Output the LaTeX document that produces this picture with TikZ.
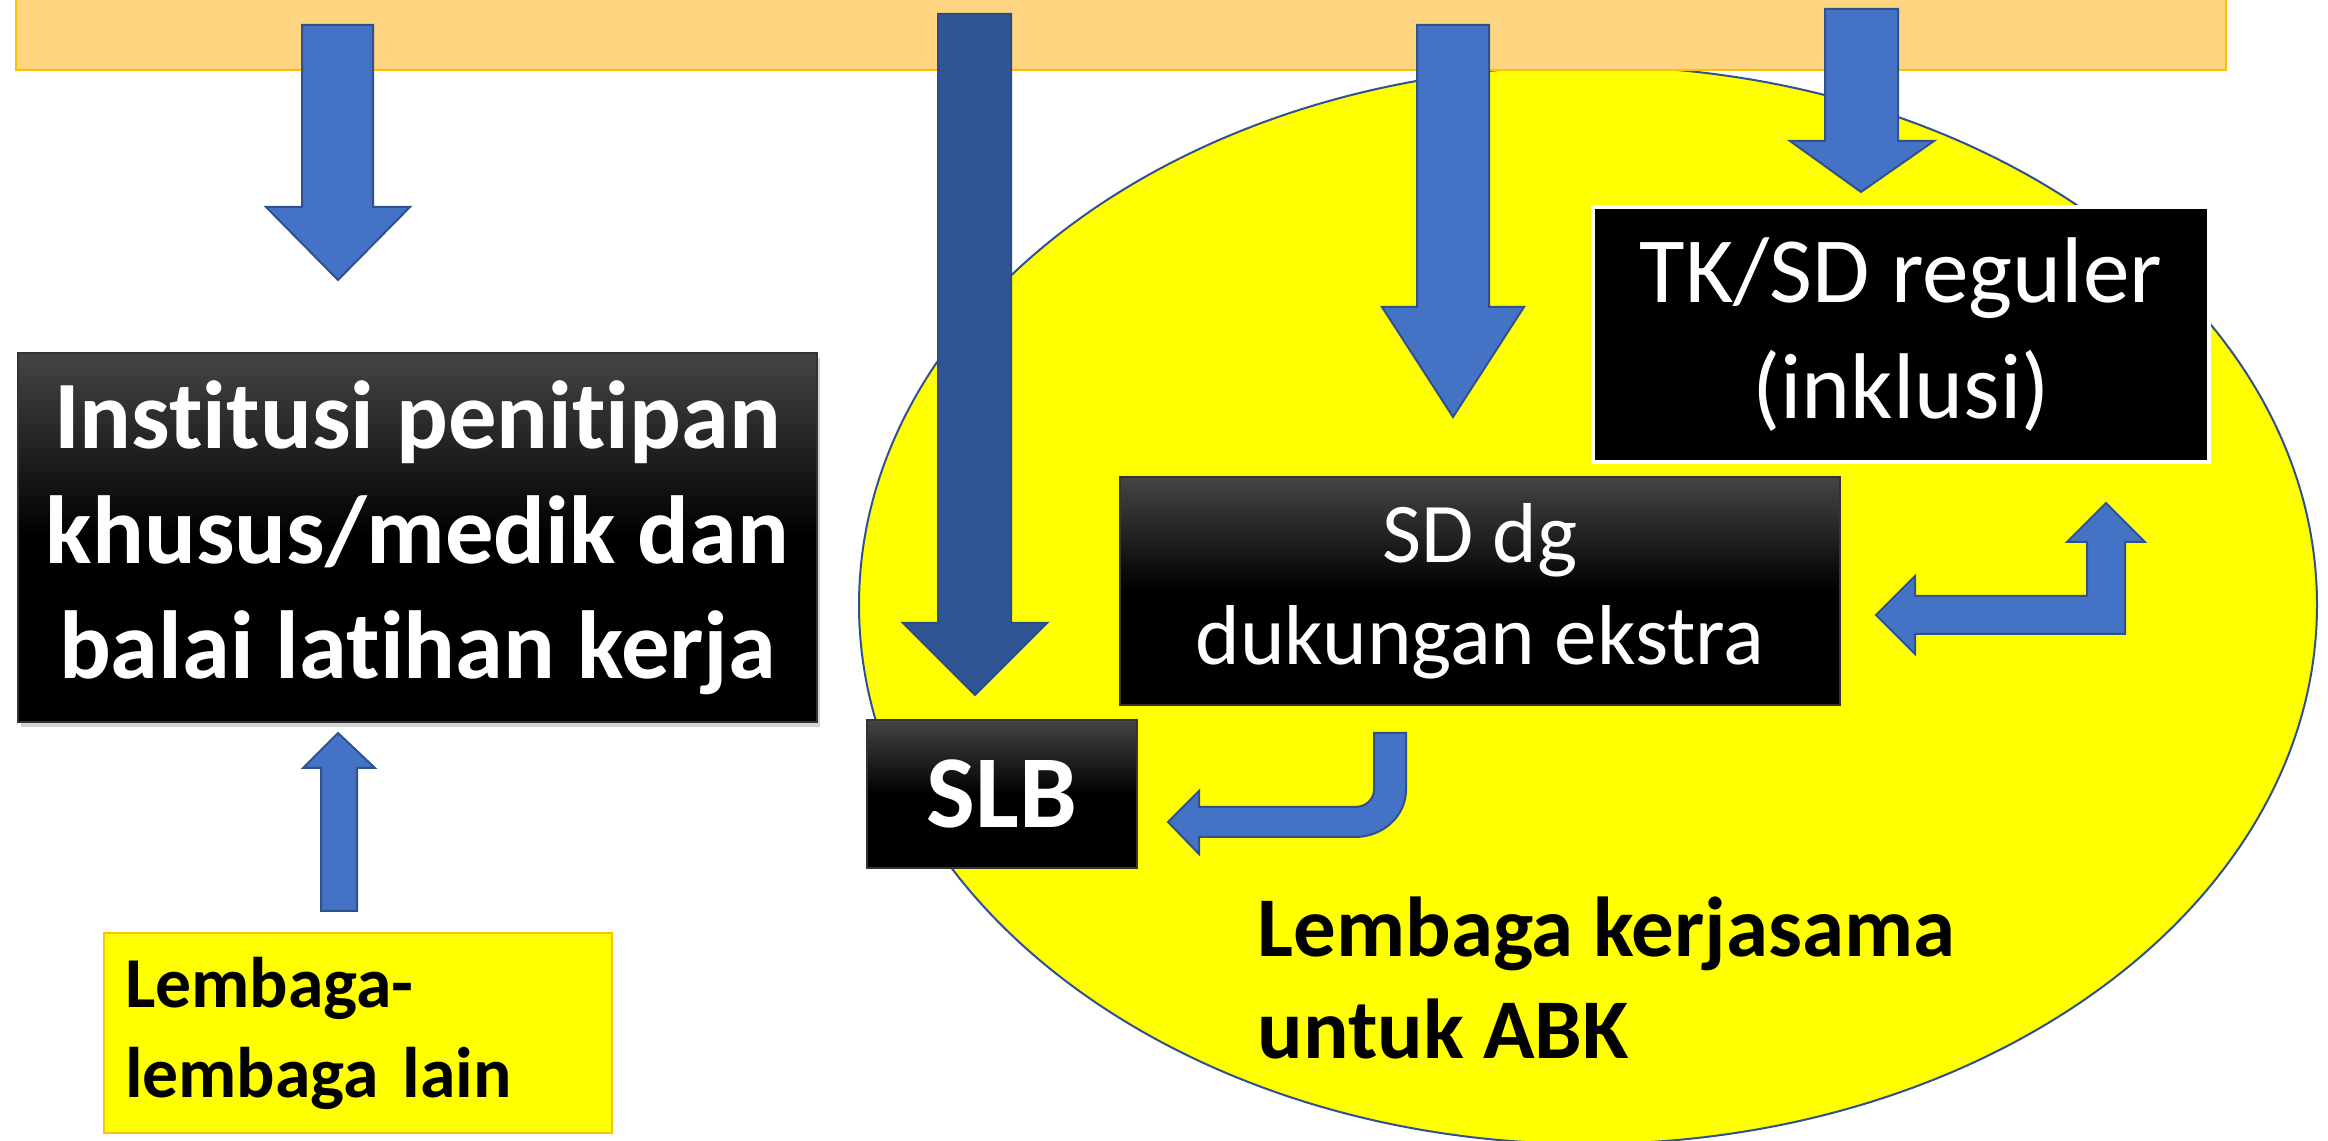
\documentclass[tikz,border=0pt]{standalone}
\usepackage{fontspec}
\setmainfont{Carlito}[Ligatures=CommonOff]
\usetikzlibrary{shadows}
\definecolor{barfill}{HTML}{FFD581}
\definecolor{barline}{HTML}{FFC000}
\definecolor{arrowfill}{HTML}{4472C4}
\definecolor{arrowline}{HTML}{2F528F}
\definecolor{darkarrow}{HTML}{2F5597}
\definecolor{ellfill}{HTML}{FFFF00}
\definecolor{ellline}{HTML}{2F528F}
\definecolor{ylwline}{HTML}{FFC000}
\begin{document}
\begin{tikzpicture}[x=0.3pt,y=-0.3pt,
  blockarrow/.style={fill=arrowfill,draw=arrowline,line width=0.6pt,line join=miter},
  darkblock/.style={fill=darkarrow,draw=darkarrow!90!black,line width=0.6pt,line join=miter},
  gradbox/.style={rectangle,draw=black!80,line width=0.4pt,top color=black!73,bottom color=black,middle color=black,
    inner sep=0pt,text=white,align=center},
  plainbox/.style={rectangle,fill=black,draw=white,line width=1pt,inner sep=0pt,text=white,align=center}]
\useasboundingbox (0,0) rectangle (2328,1141);
% yellow ellipse
\draw[fill=ellfill,draw=ellline,line width=0.6pt] (1588,605) ellipse [x radius=218.7pt, y radius=161.7pt];
% orange bar
\draw[fill=barfill,draw=barline,line width=0.8pt] (16,-10) rectangle (2226,70);
% down arrows
\draw[blockarrow] (302,25) -- (373,25) -- (373,207) -- (410,207) -- (338,280) -- (266,207) -- (302,207) -- cycle;
\draw[darkblock] (938,14) -- (1011,14) -- (1011,623) -- (1047,623) -- (975,695) -- (903,623) -- (938,623) -- cycle;
\draw[blockarrow] (1417,25) -- (1489,25) -- (1489,307) -- (1524,307) -- (1453,417) -- (1382,307) -- (1417,307) -- cycle;
\draw[blockarrow] (1825,9) -- (1898,9) -- (1898,141) -- (1934,141) -- (1861,192) -- (1790,141) -- (1825,141) -- cycle;
% boxes
\node[gradbox,minimum width=239.7pt,minimum height=110.7pt,
  drop shadow={opacity=0.35,shadow xshift=1pt,shadow yshift=-1.5pt},
  font=\fontsize{29pt}{34.5pt}\selectfont\bfseries] (inst) at (417.5,537.5)
  {Institusi penitipan\\khusus/medik dan\\balai latihan kerja};
\node[plainbox,minimum width=184.8pt,minimum height=76.5pt,
  font=\fontsize{28pt}{35pt}\selectfont] (tk) at (1901,334.5) {TK/SD reguler\\(inklusi)};
\node[gradbox,minimum width=216pt,minimum height=68.4pt,
  font=\fontsize{25.5pt}{30.6pt}\selectfont] (sd) at (1480,591) {SD dg\\dukungan ekstra};
\node[gradbox,minimum width=81pt,minimum height=44.4pt,
  font=\fontsize{31pt}{36pt}\selectfont\bfseries] (slb) at (1002,794) {SLB};
\node[rectangle,fill=ellfill,draw=ylwline,line width=0.6pt,minimum width=152.4pt,minimum height=60pt,
  text width=139.8pt,inner xsep=6.3pt,inner ysep=0pt,align=left,
  font=\fontsize{21.5pt}{27pt}\selectfont\bfseries] (lain) at (358,1033) {Lembaga-\\lembaga lain};
\node[anchor=base west,inner sep=0pt,align=left,
  font=\fontsize{25.5pt}{30.6pt}\selectfont\bfseries] (abk) at (1257,1059) {Lembaga kerjasama\\untuk ABK};
% up arrow from lain to inst
\draw[blockarrow] (321,911) -- (357,911) -- (357,768) -- (375,768) -- (338,733) -- (303,768) -- (321,768) -- cycle;
% bent arrow SD -> SLB
\draw[blockarrow] (1374,733) -- (1406,733) -- (1406,790) .. controls (1406,816) and (1383,837) .. (1355,837)
  -- (1199,837) -- (1199,854) -- (1168,822) -- (1199,791) -- (1199,807) -- (1355,807)
  .. controls (1365.5,807) and (1374,799.4) .. (1374,790) -- cycle;
% left-up arrow between TK and SD
\draw[blockarrow] (1876,615) -- (1915,576) -- (1915,596) -- (2087,596) -- (2087,542) -- (2067,542) -- (2106,503)
  -- (2145,542) -- (2125,542) -- (2125,634) -- (1915,634) -- (1915,654) -- cycle;
\end{tikzpicture}
\end{document}
